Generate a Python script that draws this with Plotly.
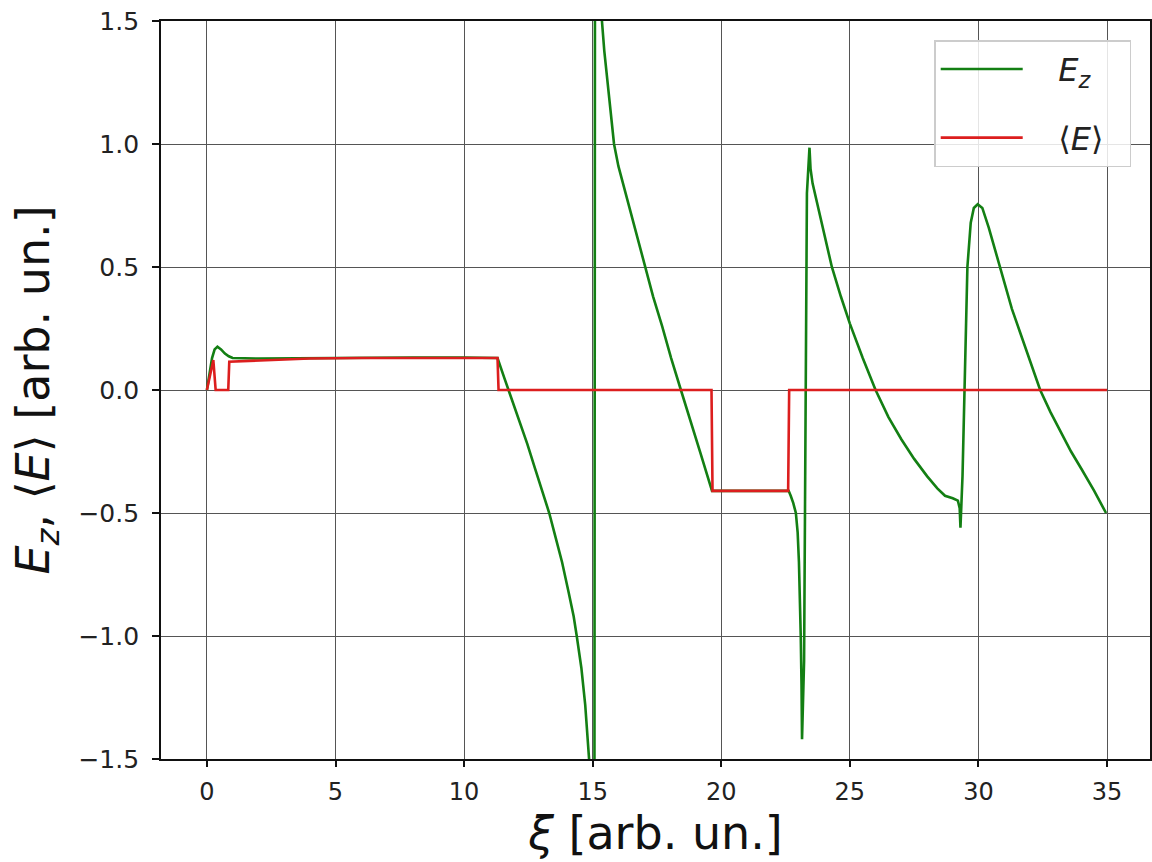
import plotly.graph_objects as go

# E_z curve (green)
ez_x = [0.0, 0.1, 0.2, 0.3, 0.41, 0.55, 0.7, 0.85, 1.0, 2.0, 4.0, 6.0, 8.0, 10.0, 11.3,
        11.56, 11.86, 12.16, 12.46, 12.76, 13.06, 13.31, 13.56, 13.81, 14.06, 14.26,
        14.38, 14.56, 14.71, 14.86, 14.96, 15.03,
        15.06, 15.1, 15.2, 15.36, 15.45, 15.56, 15.7, 15.83, 16.0, 16.2, 16.4, 16.7,
        17.0, 17.35, 17.7, 18.05, 18.43, 18.8, 19.2, 19.64,
        20.5, 21.5, 22.62, 22.7, 22.8, 22.9, 22.97, 23.02, 23.06, 23.09, 23.12, 23.14,
        23.22, 23.26, 23.29, 23.33, 23.43, 23.47, 23.55, 23.72, 24.0, 24.3, 24.65,
        25.0, 25.5, 26.0, 26.5, 27.0, 27.5, 28.0, 28.4, 28.7, 29.0, 29.2, 29.27, 29.3,
        29.38, 29.47, 29.57, 29.7, 29.82, 29.97, 30.15, 30.4, 30.7, 31.0, 31.3, 31.6,
        32.0, 32.4, 32.8, 33.2, 33.6, 34.0, 34.5, 34.96]
ez_y = [0.0, 0.07, 0.13, 0.165, 0.176, 0.165, 0.148, 0.137, 0.13, 0.128, 0.13, 0.132,
        0.132, 0.132, 0.13,
        0.05, -0.04, -0.13, -0.22, -0.32, -0.42, -0.5, -0.6, -0.7, -0.82, -0.92,
        -1.0, -1.13, -1.28, -1.5, -1.9, -3.0,
        -3.0, 3.5, 3.0, 1.5, 1.38, 1.27, 1.13, 1.0, 0.91, 0.83, 0.76, 0.63,
        0.51, 0.38, 0.26, 0.13, 0.0, -0.13, -0.26, -0.41,
        -0.41, -0.41, -0.41, -0.43, -0.46, -0.5, -0.58, -0.7, -0.85, -1.0, -1.2, -1.42,
        -1.1, -0.3, 0.4, 0.8, 0.985, 0.9, 0.84, 0.76, 0.63, 0.5, 0.38,
        0.27, 0.13, 0.0, -0.11, -0.2, -0.28, -0.35, -0.4, -0.43, -0.44, -0.45, -0.48, -0.56,
        -0.35, 0.1, 0.5, 0.68, 0.74, 0.755, 0.74, 0.66, 0.55, 0.43, 0.33, 0.24,
        0.12, 0.0, -0.09, -0.17, -0.25, -0.32, -0.41, -0.5]

# <E> curve (red)
em_x = [0.0, 0.25, 0.34, 0.83, 0.87, 2.0, 4.0, 6.0, 11.3, 11.34, 19.62, 19.66,
        22.6, 22.64, 35.0]
em_y = [0.0, 0.122, 0.0, 0.0, 0.115, 0.12, 0.128, 0.13, 0.13, 0.0, 0.0, -0.41,
        -0.41, 0.0, 0.0]

x_ticks = [0, 5, 10, 15, 20, 25, 30, 35]
y_ticks = [-1.5, -1.0, -0.5, 0.0, 0.5, 1.0, 1.5]
y_tick_text = ["\u22121.5", "\u22121.0", "\u22120.5", "0.0", "0.5", "1.0", "1.5"]

FONT = "DejaVu Sans"
PAD_L = "&nbsp;&nbsp;&nbsp;"
PAD_R = "&nbsp;&nbsp;"

fig = go.Figure()
fig.add_trace(go.Scatter(
    x=ez_x, y=ez_y, mode="lines", name=PAD_L + "<i>E</i><sub><i>z</i></sub>" + PAD_R,
    line=dict(color="#137f13", width=2.6), legendgroup="a"))
fig.add_trace(go.Scatter(
    x=em_x, y=em_y, mode="lines", name=PAD_L + "\u27e8<i>E</i>\u27e9" + PAD_R,
    line=dict(color="#dc1e1e", width=2.6), legendgroup="b"))

fig.update_layout(
    width=1152, height=862,
    margin=dict(l=161, r=0, t=21, b=103),
    paper_bgcolor="white", plot_bgcolor="white",
    font=dict(family=FONT, color="#222222"),
    showlegend=True,
    legend=dict(
        x=0.981, y=0.974, xanchor="right", yanchor="top",
        bgcolor="rgba(255,255,255,0.85)", bordercolor="#cccccc", borderwidth=1.5,
        font=dict(size=32, family=FONT, color="#222222"),
        tracegroupgap=24, itemwidth=82,
    ),
)
fig.update_xaxes(
    range=[-1.785, 36.67], tickmode="array", tickvals=x_ticks,
    showgrid=True, gridcolor="#555555", gridwidth=1.2,
    showline=True, linecolor="#111111", linewidth=1.8, mirror=True,
    ticks="outside", ticklen=6, tickcolor="#111111", tickwidth=1.5,
    ticklabelstandoff=4,
    tickfont=dict(size=24, family=FONT, color="#222222"),
    zeroline=False,
    title=dict(text="<i>\u03be</i> [arb. un.]", font=dict(size=46, family=FONT, color="#111111"),
               standoff=8),
)
fig.update_yaxes(
    range=[-1.5, 1.5], tickmode="array", tickvals=y_ticks, ticktext=y_tick_text,
    showgrid=True, gridcolor="#555555", gridwidth=1.2,
    showline=True, linecolor="#111111", linewidth=1.8, mirror=True,
    ticks="outside", ticklen=7, tickcolor="#111111", tickwidth=1.5,
    ticklabelstandoff=8,
    tickfont=dict(size=25, family=FONT, color="#222222"),
    zeroline=False,
    title=dict(text="<i>E</i><sub><i>z</i></sub>, \u27e8<i>E</i>\u27e9 [arb. un.]",
               font=dict(size=46, family=FONT, color="#111111"), standoff=14),
)

fig.write_html("out.html")
